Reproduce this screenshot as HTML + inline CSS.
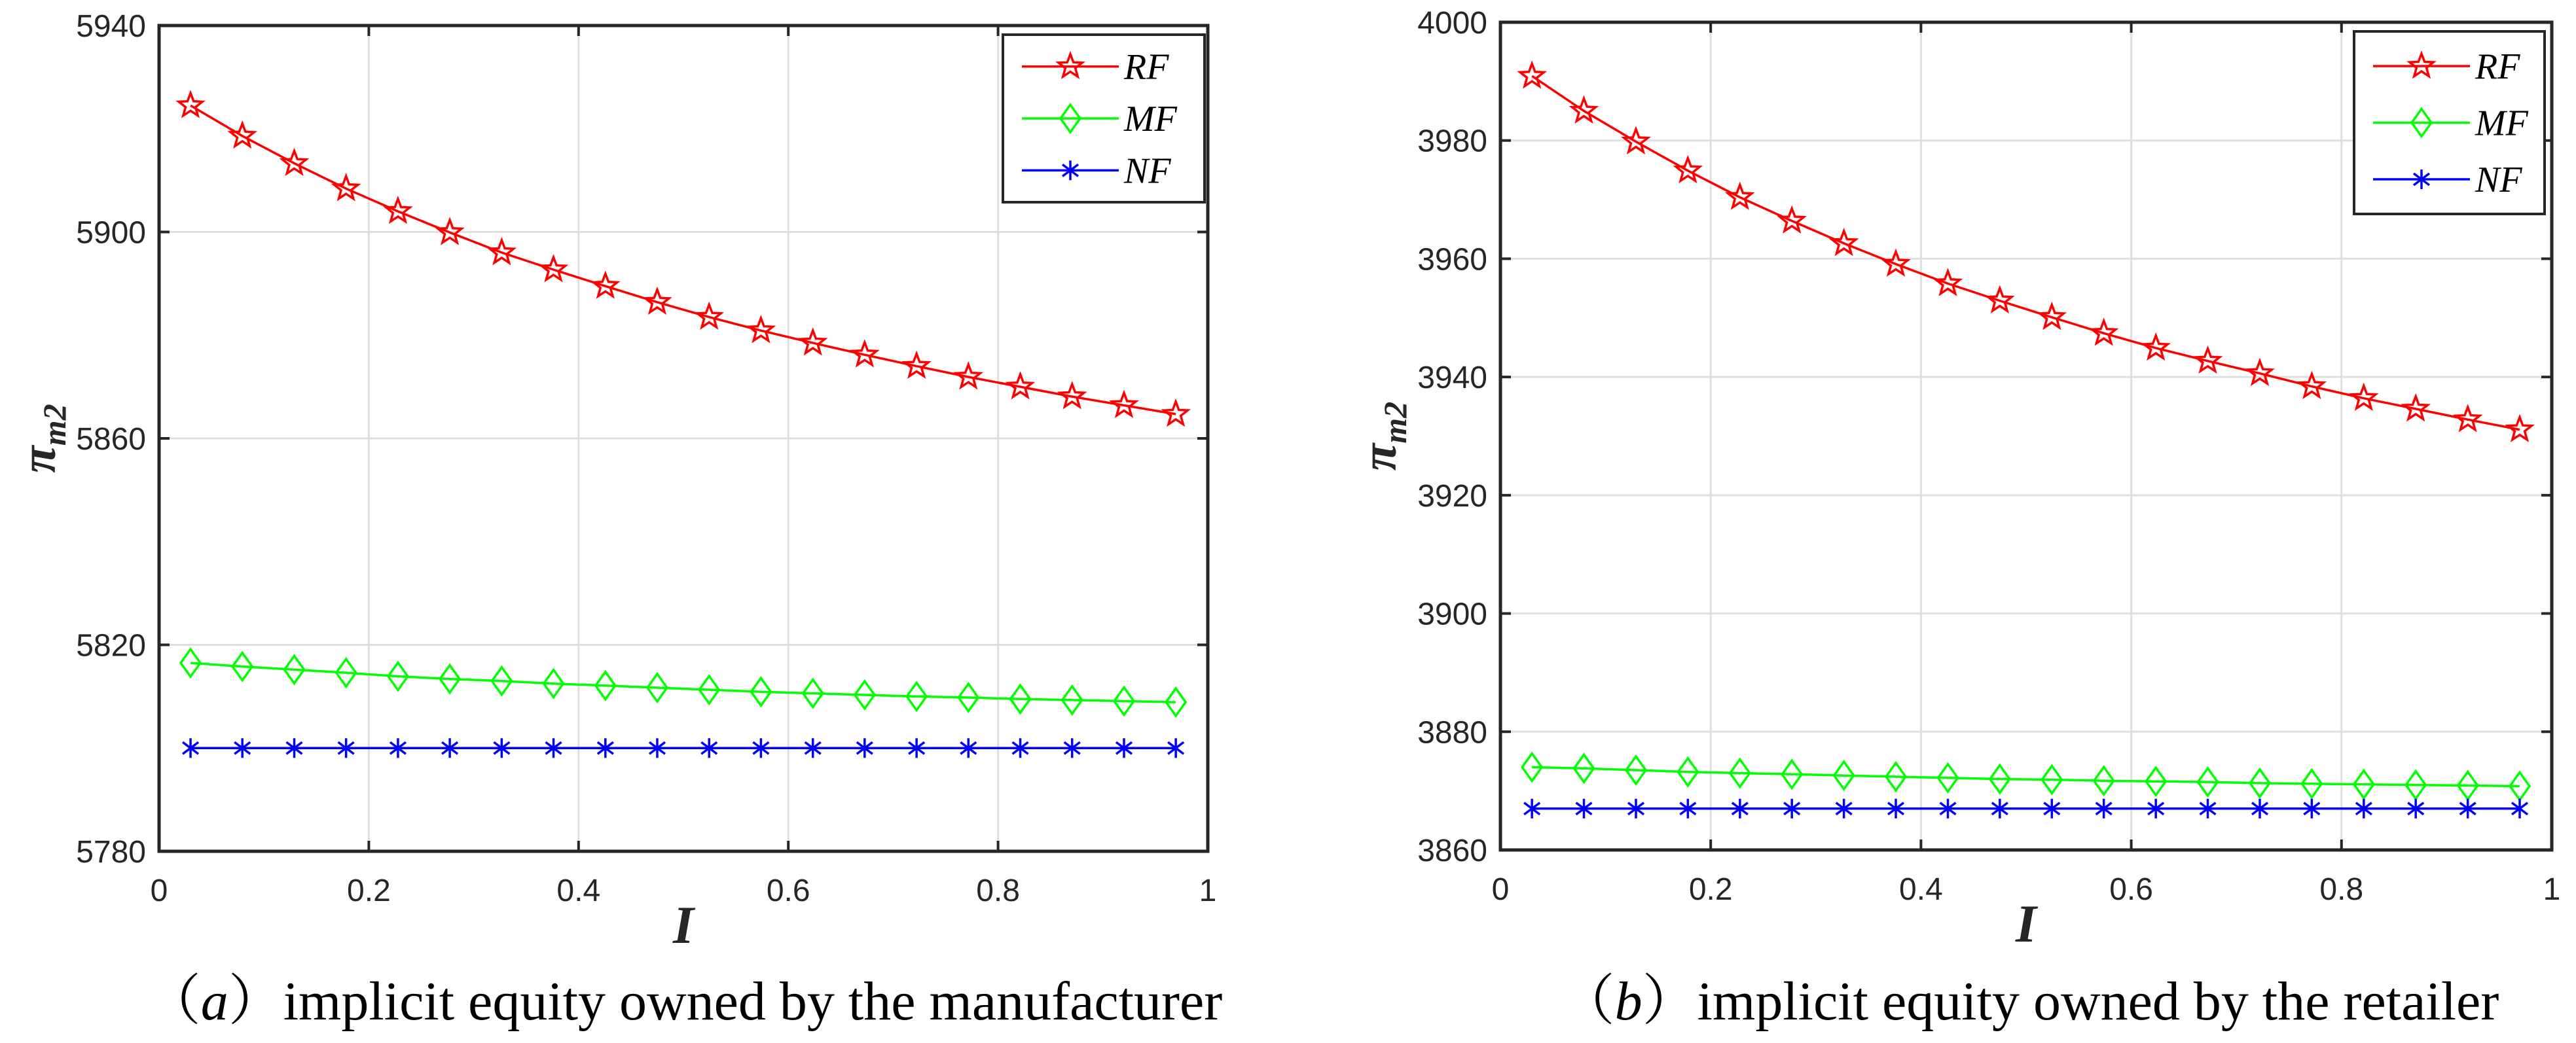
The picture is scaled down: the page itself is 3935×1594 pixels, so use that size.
<!DOCTYPE html>
<html><head><meta charset="utf-8"><style>
html,body{margin:0;padding:0;background:#fff;}
svg{display:block;}
.tick{font-family:"Liberation Sans",Arial,sans-serif;font-size:48px;fill:#262626;}
.leg{font-family:"Liberation Serif",serif;font-style:italic;font-size:56px;fill:#000;}
.axl{font-family:"Liberation Serif",serif;font-style:italic;font-weight:bold;fill:#262626;}
.cap{font-family:"Liberation Serif","Noto Serif CJK SC",serif;font-size:84px;fill:#000;}
</style></head><body>
<svg id="fig" width="3935" height="1594" viewBox="0 0 3935 1594" xmlns="http://www.w3.org/2000/svg"></svg>
<script>
const xValues=[0.03,0.0794,0.1289,0.1783,0.2278,0.2772,0.3267,0.3761,0.4256,0.4750,0.5245,0.5739,0.6234,0.6728,0.7223,0.7717,0.8212,0.8706,0.9201,0.9695];
const xTicks=[0,0.2,0.4,0.6,0.8,1];
const xTickLabels=["0","0.2","0.4","0.6","0.8","1"];
const seriesNames=["RF","MF","NF"];
const aRF=[5924.5,5918.6,5913.3,5908.4,5904.0,5899.9,5896.0,5892.7,5889.5,5886.4,5883.5,5880.9,5878.5,5876.2,5874.0,5871.9,5870.0,5868.1,5866.4,5864.7];
const aMF=[5816.5,5815.8,5815.2,5814.6,5813.9,5813.4,5813.0,5812.5,5812.1,5811.7,5811.3,5810.9,5810.6,5810.3,5810.0,5809.8,5809.5,5809.3,5809.1,5808.9];
const aNF=[5800,5800,5800,5800,5800,5800,5800,5800,5800,5800,5800,5800,5800,5800,5800,5800,5800,5800,5800,5800];
const aYTicks=[5780,5820,5860,5900,5940];
const bRF=[3990.9,3985.0,3979.8,3974.9,3970.4,3966.4,3962.6,3959.1,3955.8,3952.9,3950.1,3947.4,3944.9,3942.7,3940.6,3938.4,3936.4,3934.6,3932.8,3931.1];
const bMF=[3874.0,3873.8,3873.5,3873.2,3873.0,3872.8,3872.6,3872.4,3872.2,3872.0,3871.9,3871.7,3871.6,3871.5,3871.3,3871.2,3871.1,3871.0,3870.9,3870.8];
const bNF=[3867,3867,3867,3867,3867,3867,3867,3867,3867,3867,3867,3867,3867,3867,3867,3867,3867,3867,3867,3867];
const bYTicks=[3860,3880,3900,3920,3940,3960,3980,4000];

const NS="http://www.w3.org/2000/svg";
const svg=document.getElementById('fig');
function mk(tag,attrs,parent){const e=document.createElementNS(NS,tag);for(const k in attrs)e.setAttribute(k,attrs[k]);(parent||svg).appendChild(e);return e;}
const colors={RF:"#ff0000",MF:"#00ff00",NF:"#0000ff"};

function marker(g,type,x,y){
  if(type==="RF"){
    let pts=[];for(let i=0;i<10;i++){const r=i%2?8:19;const a=-Math.PI/2+i*Math.PI/5;pts.push((x+r*Math.cos(a)).toFixed(1)+","+(y+r*Math.sin(a)).toFixed(1));}
    const m=mk('polygon',{points:pts.join(' '),fill:'none',stroke:colors.RF,'stroke-width':3.5},g);
    
    
  }else if(type==="MF"){
    const m=mk('polygon',{points:`${x},${y-21} ${x+15},${y} ${x},${y+21} ${x-15},${y}`,fill:'none',stroke:colors.MF,'stroke-width':3.5},g);
    
    
  }else{
    const d=`M${x},${y-15}L${x},${y+15}M${x-12},${y-9}L${x+12},${y+9}M${x-12},${y+9}L${x+12},${y-9}`;
    const m=mk('path',{d:d,stroke:colors.NF,'stroke-width':3.5,fill:'none'},g);
    
    
  }
}

function panel(cfg){
  const g=mk('g',{});
  
  
  const L=cfg.L,R=cfg.R,T=cfg.T,B=cfg.B;
  const ymin=cfg.yTicks[0],ymax=cfg.yTicks[cfg.yTicks.length-1];
  const sx=v=>L+(R-L)*v;
  const sy=v=>B-(B-T)*(v-ymin)/(ymax-ymin);
  xTicks.forEach((t,i)=>{
    if(i>0&&i<xTicks.length-1){const l=mk('line',{x1:sx(t),x2:sx(t),y1:T,y2:B,stroke:'#dfdfdf','stroke-width':3},g);
    
    }
    mk('line',{x1:sx(t),x2:sx(t),y1:B,y2:B-16,stroke:'#262626','stroke-width':4},g);
    mk('line',{x1:sx(t),x2:sx(t),y1:T,y2:T+16,stroke:'#262626','stroke-width':4},g);
    const tx=mk('text',{x:sx(t),y:B+76,'text-anchor':'middle',class:'tick'},g);tx.textContent=xTickLabels[i];
    
    
  });
  cfg.yTicks.forEach((t,i)=>{
    if(i>0&&i<cfg.yTicks.length-1){const l=mk('line',{x1:L,x2:R,y1:sy(t),y2:sy(t),stroke:'#dfdfdf','stroke-width':3},g);
    
    }
    mk('line',{x1:L,x2:L+16,y1:sy(t),y2:sy(t),stroke:'#262626','stroke-width':4},g);
    mk('line',{x1:R,x2:R-16,y1:sy(t),y2:sy(t),stroke:'#262626','stroke-width':4},g);
    const tx=mk('text',{x:L-20,y:sy(t)+17,'text-anchor':'end',class:'tick'},g);tx.textContent=String(t);
    
    
  });
  seriesNames.forEach((s,si)=>{
    const vals=cfg.series[si];
    const sg=mk('g',{},g);
    
    
    const pts=vals.map((v,i)=>sx(xValues[i]).toFixed(1)+','+sy(v).toFixed(1)).join(' ');
    const pl=mk('polyline',{points:pts,fill:'none',stroke:colors[s],'stroke-width':3.5},sg);
    
    
    vals.forEach((v,i)=>marker(sg,s,sx(xValues[i]),sy(v)));
  });
  const fr=mk('rect',{x:L,y:T,width:R-L,height:B-T,fill:'none',stroke:'#262626','stroke-width':5},g);
  
  
  const lg=mk('g',{},g);
  
  
  const lx=cfg.leg[0],ly=cfg.leg[1],lw=cfg.leg[2],lh=cfg.leg[3];
  mk('rect',{x:lx,y:ly,width:lw,height:lh,fill:'#fff',stroke:'#262626','stroke-width':4},lg);
  seriesNames.forEach((s,i)=>{
    const yy=ly+lh*(0.19+0.31*i);
    const e=mk('g',{},lg);
    
    
    mk('line',{x1:lx+29,x2:lx+177,y1:yy,y2:yy,stroke:colors[s],'stroke-width':3.5},e);
    marker(e,s,lx+103,yy);
    const t=mk('text',{x:lx+185,y:yy+19,class:'leg'},e);t.textContent=s;
  });
  const yl=mk('text',{x:0,y:0,class:'axl',transform:`translate(${cfg.ylx},${(T+B)/2}) rotate(-90)`,'text-anchor':'middle','font-size':'76'},g);
  yl.innerHTML='π<tspan font-size="50" dy="16">m2</tspan>';
  
  
  const xl=mk('text',{x:(L+R)/2,y:B+140,class:'axl','text-anchor':'middle','font-size':'82'},g);xl.textContent='I';
  
  
  const cp=mk('text',{x:cfg.capx,y:1558,class:'cap','text-anchor':'middle'},g);
  cp.innerHTML=cfg.cap;
  
  
}
panel({name:'panel-a',L:243,R:1845,T:39,B:1301,yTicks:aYTicks,series:[aRF,aMF,aNF],leg:[1532,53,308,256],ylx:84,capx:1045,cap:'（<tspan font-style="italic">a</tspan>）implicit equity owned by the manufacturer'});
panel({name:'panel-b',L:2292,R:3898,T:34,B:1299,yTicks:bYTicks,series:[bRF,bMF,bNF],leg:[3596,48,291,279],ylx:2132,capx:3100,cap:'（<tspan font-style="italic">b</tspan>）implicit equity owned by the retailer'});
</script>
</body></html>
